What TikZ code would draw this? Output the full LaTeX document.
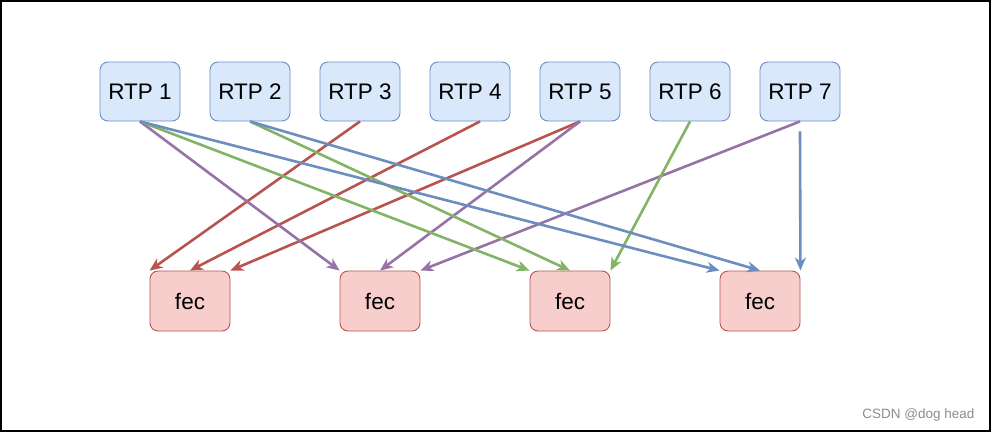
\documentclass[tikz,border=0pt]{standalone}
\usepackage{fontspec}
\setmainfont{Liberation Sans}
\usetikzlibrary{arrows.meta}
\definecolor{rtpfill}{HTML}{DAE8FC}
\definecolor{rtpline}{HTML}{6C8EBF}
\definecolor{fecfill}{HTML}{F8CECC}
\definecolor{fecline}{HTML}{B85450}
\definecolor{lred}{HTML}{B85450}
\definecolor{lgreen}{HTML}{82B366}
\definecolor{lpurple}{HTML}{9673A6}
\definecolor{lblue}{HTML}{6C8EBF}
\begin{document}
\begin{tikzpicture}[x=1pt,y=-1pt,
    rtpbox/.style={draw=rtpline,fill=rtpfill,line width=0.9pt,rounded corners=8pt,
      minimum width=80pt,minimum height=59pt,inner sep=0pt,font=\fontsize{22.5}{26}\selectfont},
    fecbox/.style={draw=fecline,fill=fecfill,line width=0.9pt,rounded corners=8pt,
      minimum width=80pt,minimum height=60pt,inner sep=0pt,font=\fontsize{22.5}{26}\selectfont},
    link/.style={line width=2.6pt,-{Stealth[length=13pt,width=11pt,inset=4pt]}}]
    \useasboundingbox (0,0) rectangle (992,432);
    \draw[line width=1.2pt] (1,1) rectangle (990,431);

    \node[rtpbox] (rtp1) at (140,91.5){RTP 1};
    \node[rtpbox] (rtp2) at (250,91.5){RTP 2};
    \node[rtpbox] (rtp3) at (360,91.5){RTP 3};
    \node[rtpbox] (rtp4) at (470,91.5){RTP 4};
    \node[rtpbox] (rtp5) at (580,91.5){RTP 5};
    \node[rtpbox] (rtp6) at (690,91.5){RTP 6};
    \node[rtpbox] (rtp7) at (800,91.5){RTP 7};

    \node[fecbox] (fec1) at (190,301){fec};
    \node[fecbox] (fec2) at (380,301){fec};
    \node[fecbox] (fec3) at (570,301){fec};
    \node[fecbox] (fec4) at (760,301){fec};

    \draw (rtp3.south) edge[link,lred] (fec1.north west);
    \draw ([xshift=10pt]rtp4.south) edge[link,lred] (fec1.north);
    \draw (rtp5.south) edge[link,lred] (fec1.north east);

    \draw (rtp1.south) edge[link,lpurple] (fec2.north west);
    \draw (rtp5.south) edge[link,lpurple] (fec2.north);
    \draw (rtp7.south) edge[link,lpurple] (fec2.north east);

    \draw (rtp1.south) edge[link,lgreen] (fec3.north west);
    \draw (rtp2.south) edge[link,lgreen] (fec3.north);
    \draw (rtp6.south) edge[link,lgreen] (fec3.north east);

    \draw (rtp1.south) edge[link,lblue] (fec4.north west);
    \draw (rtp2.south) edge[link,lblue] (fec4.north);
    \draw ([yshift=-10pt]rtp7.south) edge[link,lblue] (fec4.north east);

    \node[text=black!45,font=\fontsize{13.5}{15}\selectfont,anchor=east] (mark) at (978,415){CSDN @dog head};
  \end{tikzpicture}
\end{document}
